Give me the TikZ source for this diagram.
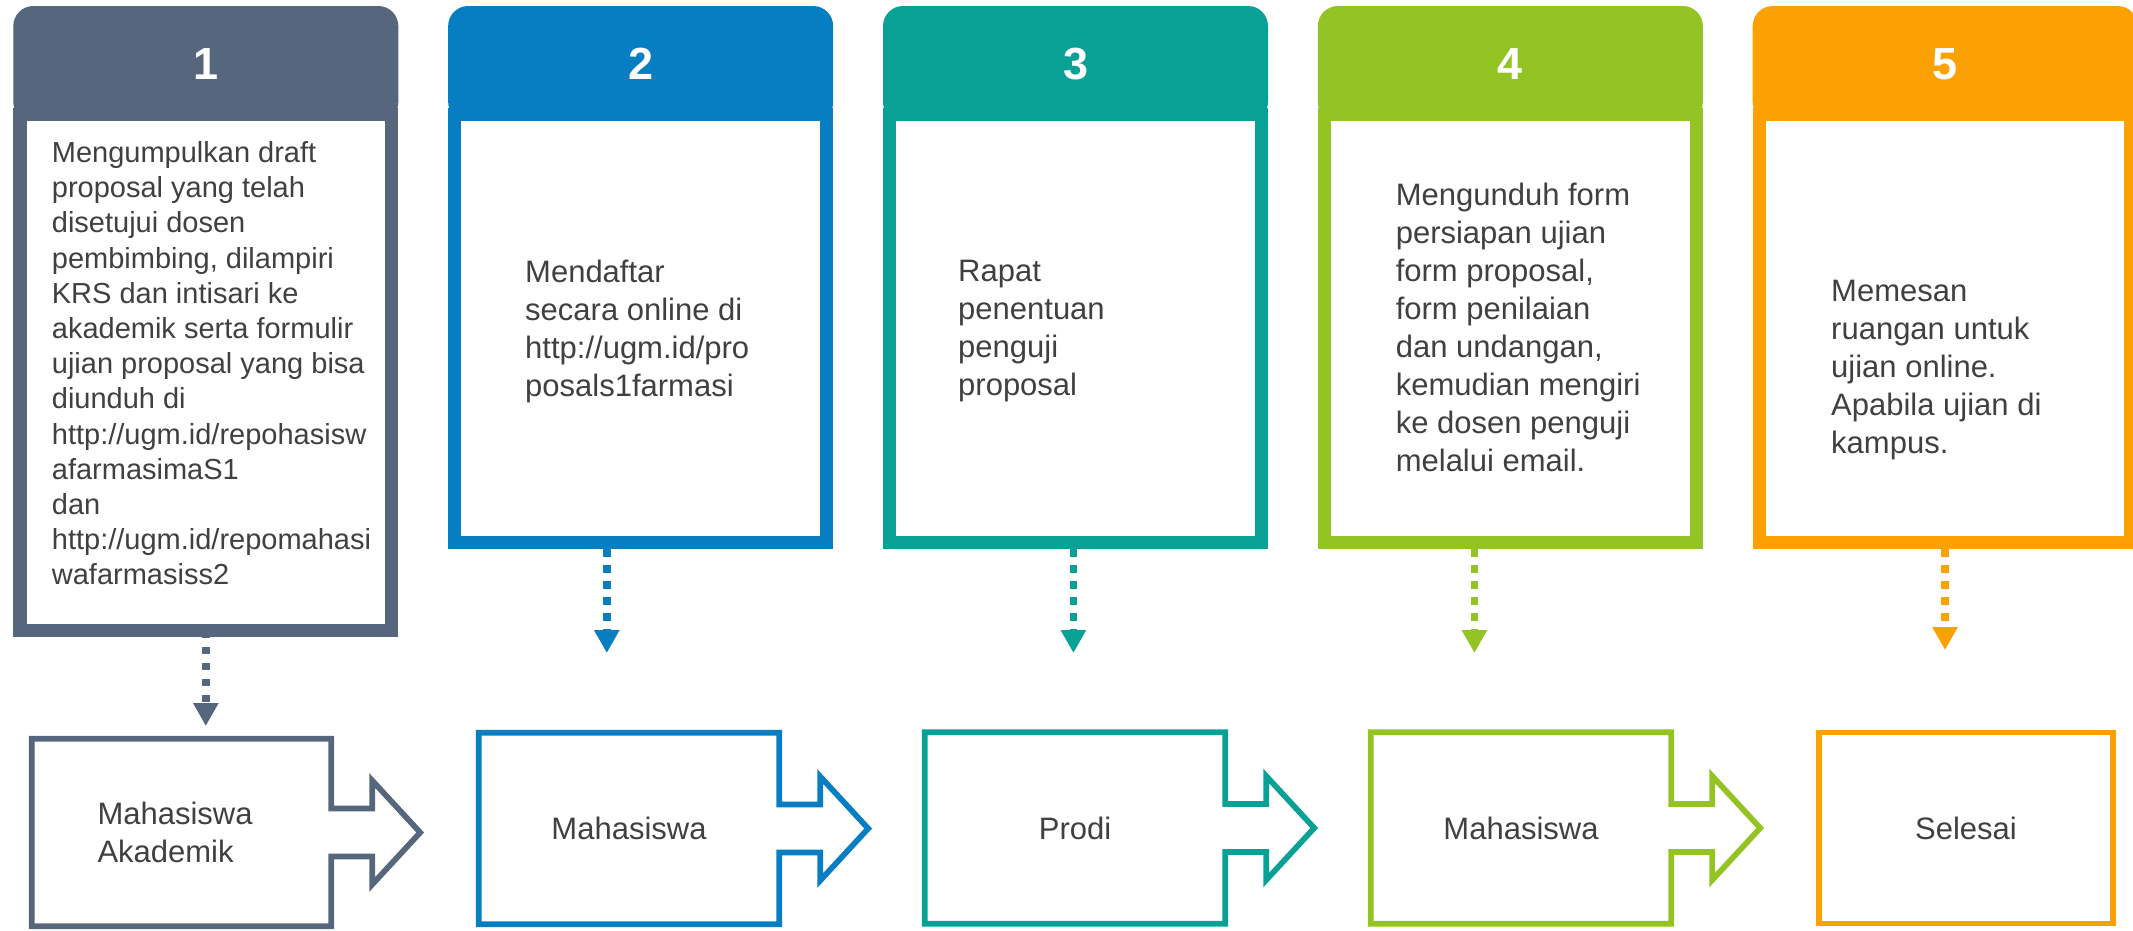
\documentclass[tikz,border=0pt]{standalone}
\usepackage{fontspec}
\setmainfont{Liberation Sans}
\usetikzlibrary{arrows.meta, positioning, calc}
\definecolor{slate}{RGB}{86, 102, 124}
\definecolor{ocean}{RGB}{8, 126, 194}
\definecolor{teal}{RGB}{9, 161, 150}
\definecolor{lime}{RGB}{147, 196, 35}
\definecolor{amber}{RGB}{251, 161, 3}
\definecolor{ink}{RGB}{64, 64, 64}

\begin{document}
\begin{tikzpicture}[
  x=1pt, y=1pt,
  head/.style={rounded corners=20pt, minimum width=385pt, minimum height=116pt, inner sep=0pt, text=white, font=\fontsize{45}{50}\selectfont\bfseries},
  body/.style={fill=white, line width=13.3pt, minimum width=371.7pt, inner sep=0pt},
  note/.style={anchor=north west, inner sep=0pt, align=left, text=ink, font=\fontsize{31}{38}\selectfont},
  who/.style={minimum width=300pt, minimum height=191pt, inner sep=0pt, align=left, text=ink, font=\fontsize{31}{38.3}\selectfont},
  wholine/.style={line width=5.7pt, line join=miter},
  flow/.style={line width=7.5pt, dash pattern=on 7.5pt off 8.5pt, -{Triangle[length=23pt, width=24pt]}}
]
  \useasboundingbox (0, 0) rectangle (2133, -930);

  % Step headers
  \node[head, fill=slate] (head1) at (205.8, -64) {1};
  \node[head, fill=ocean] (head2) at (640.65, -64) {2};
  \node[head, fill=teal]  (head3) at (1075.5, -64) {3};
  \node[head, fill=lime]  (head4) at (1510.35, -64) {4};
  \node[head, fill=amber] (head5) at (1945.2, -64) {5};

  % Step bodies
  \node[body, draw=slate, minimum height=515.7pt] (card1) at (205.8, -372.5) {};
  \node[body, draw=ocean, minimum height=427.7pt] (card2) at (640.65, -328.5) {};
  \node[body, draw=teal,  minimum height=427.7pt] (card3) at (1075.5, -328.5) {};
  \node[body, draw=lime,  minimum height=427.7pt] (card4) at (1510.35, -328.5) {};
  \node[body, draw=amber, minimum height=427.7pt] (card5) at (1945.2, -328.5) {};

  % Step texts
  \node[note, font=\fontsize{29}{35.2}\selectfont] (text1) at (51.7, -141.2) {Mengumpulkan draft\\proposal yang telah\\disetujui dosen\\pembimbing, dilampiri\\KRS dan intisari ke\\akademik serta formulir\\ujian proposal yang bisa\\diunduh di\\http://ugm.id/repohasisw\\afarmasimaS1\\dan\\http://ugm.id/repomahasi\\wafarmasiss2};
  \node[note] (text2) at (525, -259.5) {Mendaftar\\secara online di\\http://ugm.id/pro\\posals1farmasi};
  \node[note] (text3) at (958, -259.5) {Rapat\\penentuan\\penguji\\proposal};
  \node[note] (text4) at (1395.6, -182.8) {Mengunduh form\\persiapan ujian\\form proposal,\\form penilaian\\dan undangan,\\kemudian mengiri\\ke dosen penguji\\melalui email.};
  \node[note] (text5) at (1831, -279.8) {Memesan\\ruangan untuk\\ujian online.\\Apabila ujian di\\kampus.};

  % Who does it
  \node[who, minimum width=299pt, minimum height=187pt, text width=168pt] (who1) at (181.5, -832.5) {Mahasiswa\\Akademik};
  \node[who] (who2) at (629, -828.5) {Mahasiswa};
  \node[who] (who3) at (1075, -828) {Prodi};
  \node[who] (who4) at (1521, -828) {Mahasiswa};
  \node[who, draw=amber, line width=5.7pt, minimum width=294pt] (who5) at (1966, -828) {Selesai};

  \draw[wholine, slate] (who1.north west) -- (who1.north east) -- ([yshift=24pt]who1.east) -- ++(41, 0) -- ++(0, 28) -- ([xshift=89pt]who1.east)
    -- ([xshift=41pt, yshift=-52pt]who1.east) -- ++(0, 28) -- ([yshift=-24pt]who1.east) -- (who1.south east) -- (who1.south west) -- cycle;
  \draw[wholine, ocean] (who2.north west) -- (who2.north east) -- ([yshift=24pt]who2.east) -- ++(41, 0) -- ++(0, 28) -- ([xshift=89pt]who2.east)
    -- ([xshift=41pt, yshift=-52pt]who2.east) -- ++(0, 28) -- ([yshift=-24pt]who2.east) -- (who2.south east) -- (who2.south west) -- cycle;
  \draw[wholine, teal] (who3.north west) -- (who3.north east) -- ([yshift=24pt]who3.east) -- ++(41, 0) -- ++(0, 28) -- ([xshift=89pt]who3.east)
    -- ([xshift=41pt, yshift=-52pt]who3.east) -- ++(0, 28) -- ([yshift=-24pt]who3.east) -- (who3.south east) -- (who3.south west) -- cycle;
  \draw[wholine, lime] (who4.north west) -- (who4.north east) -- ([yshift=24pt]who4.east) -- ++(41, 0) -- ++(0, 28) -- ([xshift=89pt]who4.east)
    -- ([xshift=41pt, yshift=-52pt]who4.east) -- ++(0, 28) -- ([yshift=-24pt]who4.east) -- (who4.south east) -- (who4.south west) -- cycle;

  % Dotted arrows down
  \coordinate (tip1) at (205.8, -726);
  \coordinate (tip2) at (606.8, -653);
  \coordinate (tip3) at (1073.4, -653);
  \coordinate (tip4) at (1474.4, -653);
  \coordinate (tip5) at (1945, -650);
  \draw[flow, slate, dash phase=6.35pt] (card1.south) -- (tip1);
  \draw[flow, ocean] (card2.south -| tip2) -- (tip2);
  \draw[flow, teal]  (card3.south -| tip3) -- (tip3);
  \draw[flow, lime]  (card4.south -| tip4) -- (tip4);
  \draw[flow, amber] (card5.south -| tip5) -- (tip5);
\end{tikzpicture}
\end{document}
